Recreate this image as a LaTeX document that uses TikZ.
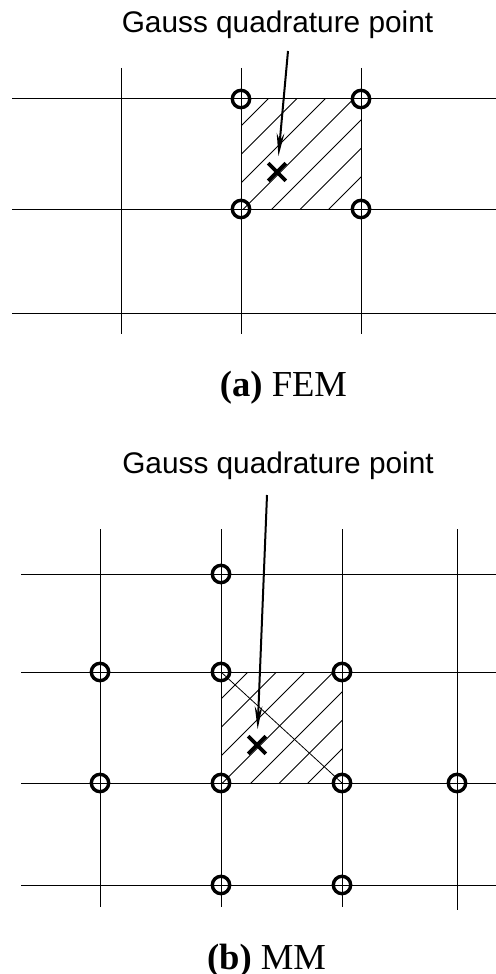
\documentclass[tikz,border=0pt]{standalone}
\usepackage{fontspec}
\setmainfont{Liberation Serif}
\newfontfamily\arialfont{Liberation Sans}
\usetikzlibrary{arrows.meta,shapes.misc}
\begin{document}
\begin{tikzpicture}[x=0.5pt,y=-0.5pt,>={Stealth[length=11.5pt,width=3.8pt]},
  nd/.style={circle,draw,line width=1.7pt,minimum size=8.7pt,inner sep=0pt},
  gp/.style={cross out,draw,line width=1.8pt,minimum size=7pt,inner sep=0pt},
  lbl/.style={font=\arialfont\fontsize{14.9}{16}\selectfont,anchor=base,inner sep=0pt},
  sublbl/.style={font=\fontsize{18.3}{20}\selectfont,anchor=base,inner sep=0pt},
  gridln/.style={line width=.5pt},hatch/.style={line width=.4pt}]
\useasboundingbox(0,0)rectangle(496,974);
% (a) FEM
\foreach \x in {121,241,361}\draw[gridln](\x,68)--(\x,334);
\foreach \y in {99,209,313}\draw[gridln](12,\y)--(496,\y);
\begin{scope}
\clip(241,99)rectangle(361,209);
\foreach \d in {27,55.5,...,199}\draw[hatch]({391+\d},-51)--({91+\d},249);
\end{scope}
\node[nd](a1)at(241,99){};
\node[nd](a2)at(361,99){};
\node[nd](a3)at(241,209){};
\node[nd](a4)at(361,209){};
\node[gp](qa)at(277,172){};
\node[lbl](ta)at(277.5,33){Gauss quadrature point};
\coordinate(sa)at(288,51);
\draw[->,line width=1pt,shorten >=3.5pt](sa)--(qa);
\node[sublbl](ca)at(283.5,396){\textbf{(a)} FEM};
% (b) MM
\foreach \x in {100,221,342}\draw[gridln](\x,529)--(\x,907);
\draw[gridln](457,529)--(457,910);
\foreach \y in {574,672,783,885}\draw[gridln](21,\y)--(496,\y);
\begin{scope}
\clip(221,672)rectangle(342,783);
\foreach \d in {27,55.5,...,199}\draw[hatch]({371+\d},522)--({71+\d},822);
\end{scope}
\node[nd](b1)at(221,574){};
\node[nd](b2)at(100,672){};
\node[nd](b3)at(221,672){};
\node[nd](b4)at(342,672){};
\node[nd](b5)at(100,783){};
\node[nd](b6)at(221,783){};
\node[nd](b7)at(342,783){};
\node[nd](b8)at(457,783){};
\node[nd](b9)at(221,885){};
\node[nd](b10)at(342,885){};
\draw[hatch](b3.center)--(b7.center);
\node[gp](qb)at(257,745){};
\node[lbl](tb)at(278,473){Gauss quadrature point};
\coordinate(sb)at(267,495);
\draw[->,line width=1pt,shorten >=3.5pt](sb)--(qb);
\node[sublbl](cb)at(266.5,969){\textbf{(b)} MM};
\end{tikzpicture}
\end{document}
